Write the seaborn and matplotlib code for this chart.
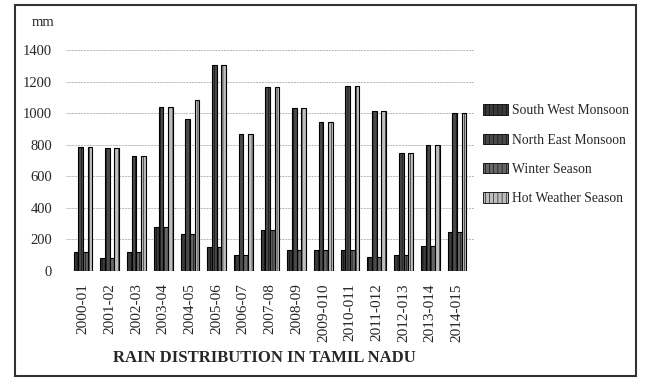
import matplotlib
matplotlib.use("Agg")
import matplotlib.pyplot as plt
import seaborn as sns
import pandas as pd
from matplotlib.patches import Rectangle, Patch

years = ["2000-01", "2001-02", "2002-03", "2003-04", "2004-05", "2005-06", "2006-07",
         "2007-08", "2008-09", "2009-010", "2010-011", "2011-012", "2012-013",
         "2013-014", "2014-015"]
south_west = [122, 80, 120, 280, 234, 154, 101, 259, 133, 133, 133, 91, 99, 158, 249]
north_east = [783, 780, 730, 1040, 966, 1308, 865, 1166, 1030, 941, 1173, 1015, 749, 797, 1000]
winter = [122, 80, 120, 280, 234, 154, 101, 259, 133, 133, 133, 91, 99, 158, 249]
hot_weather = [783, 780, 730, 1040, 1086, 1308, 865, 1166, 1030, 941, 1173, 1015, 749, 797, 1000]
series = ["South West Monsoon", "North East Monsoon", "Winter Season", "Hot Weather Season"]
colors = ["#3a3a3a", "#4a4a4a", "#666666", "#bdbdbd"]

rows = []
for name, vals in zip(series, [south_west, north_east, winter, hot_weather]):
    for y, v in zip(years, vals):
        rows.append({"Year": y, "Series": name, "mm": v})
df = pd.DataFrame(rows)

sns.set_style("white")
plt.rcParams["font.family"] = ["Liberation Serif", "DejaVu Serif"]
plt.rcParams["hatch.linewidth"] = 0.4

W, H = 647, 381
fig = plt.figure(figsize=(W / 100, H / 100), dpi=100)
ax = fig.add_axes([66 / W, 1 - 271 / H, (474 - 66) / W, (271 - 50) / H])

sns.barplot(data=df, x="Year", y="mm", hue="Series", palette=colors, width=0.7,
            ax=ax, legend=False, edgecolor="black", linewidth=0.8, saturation=1)
for p in ax.patches:
    p.set_hatch("||||")

ax.set_ylim(0, 1400)
ax.set_xlim(-0.64, 14.64)
ax.set_yticks(range(0, 1401, 200))
ax.set_yticklabels([str(v) for v in range(0, 1401, 200)], fontsize=10.5)
ax.tick_params(axis="y", length=0, pad=10)
ax.tick_params(axis="x", length=0, pad=9, labelsize=11, rotation=90)
ax.set_xlabel("")
ax.set_ylabel("")
for s in ax.spines.values():
    s.set_visible(False)
ax.yaxis.grid(True, linestyle=(0, (2, 1)), color="#b5b5b5", linewidth=0.7)
ax.set_axisbelow(True)

fig.text(32 / W, 1 - 22 / H, "mm", fontsize=10.5, va="center", ha="left")
fig.text(264 / W, 1 - 358 / H, "RAIN DISTRIBUTION IN TAMIL NADU", fontsize=12,
         fontweight="bold", ha="center", va="center")

handles = [Patch(facecolor=c, edgecolor="black", linewidth=0.6, hatch="||||") for c in colors]
fig.legend(handles, series, loc="upper left", bbox_to_anchor=(471 / W, 1 - 92 / H),
           frameon=False, fontsize=9.8, handlelength=1.8, handleheight=0.8,
           labelspacing=1.2, handletextpad=0.3)

fig.add_artist(Rectangle((15 / W, 1 - 376 / H), (636 - 15) / W, (376 - 5) / H,
                         transform=fig.transFigure, fill=False, edgecolor="#333333",
                         linewidth=1.5))
fig.savefig("out.png", dpi=100)
